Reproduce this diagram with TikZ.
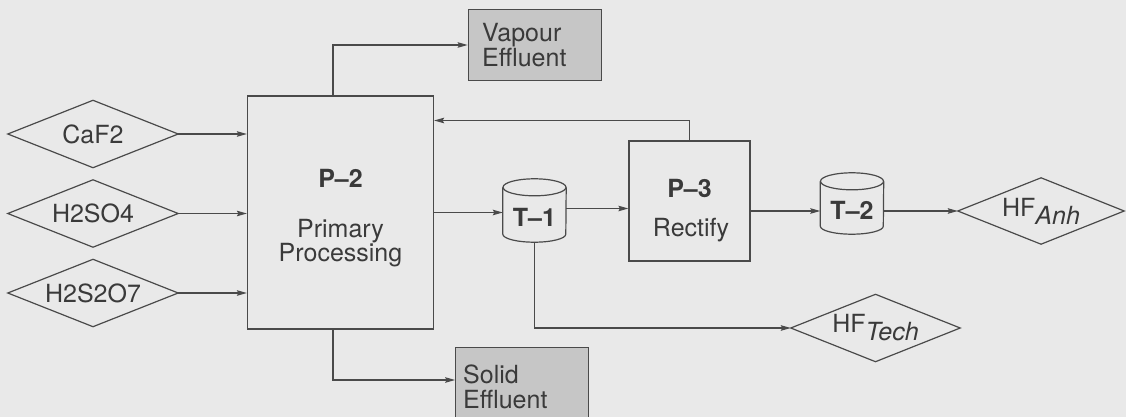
\documentclass[tikz,border=0pt]{standalone}
\usepackage{fontspec}
\setmainfont{TeX Gyre Heros}
\usetikzlibrary{arrows.meta}
\definecolor{bg}{HTML}{E9E9E9}
\definecolor{ln}{HTML}{4A4A4A}
\definecolor{tx}{HTML}{3A3A3A}
\definecolor{eff}{HTML}{C6C6C6}
\newcommand{\dfont}{\fontsize{25}{25}\selectfont}
\begin{document}
\begin{tikzpicture}[x=1pt,y=-1pt,
  every node/.style={font=\dfont, text=tx},
  feed/.style={rectangle, minimum width=170pt, minimum height=67pt, inner sep=0pt},
  diamondline/.style={draw=ln, line width=1.2pt},
  procbox/.style={rectangle, draw=ln, line width=1.2pt, inner sep=0pt},
  effbox/.style={rectangle, draw=ln, fill=eff, line width=1.2pt, inner sep=0pt},
  arr/.style={draw=ln, line width=1.2pt, -{Stealth[length=10pt,width=5.5pt,inset=1.5pt]}},
  lbl/.style={anchor=base, inner sep=0pt},
  lbll/.style={anchor=base west, inner sep=0pt},
  bold/.style={font=\dfont\bfseries},
  tankbody/.style={rectangle, inner sep=0pt, minimum width=63pt},
  tankline/.style={draw=ln, line width=1.2pt},
]
\fill[bg] (0,0) rectangle (1126,417);
\clip (0,0) rectangle (1126,417);

% feeds
\node[feed] (caf) at (93,134) {CaF2};
\node[feed] (hso) at (93,213.5) {H2SO4};
\node[feed] (hs2) at (93,293) {H2S2O7};

% P-2
\node[procbox, minimum width=186pt, minimum height=233pt] (p2) at (340.5,212.5) {};
\node[lbl, bold] (p2t) at (340.5,187) {P–2};
\node[lbl] (p2u) at (340.5,237) {Primary};
\node[lbl] (p2v) at (340.5,261) {Processing};

% effluents
\node[effbox, minimum width=133.5pt, minimum height=71.5pt] (vap) at (535,45) {};
\node[lbll] (vapa) at (482,41.5) {Vapour};
\node[lbll] (vapb) at (482,66.5) {Effluent};
\node[effbox, minimum width=132.5pt, minimum height=71.5pt] (sol) at (522,383) {};
\node[lbll] (sola) at (463,383) {Solid};
\node[lbll] (solb) at (463,408.5) {Effluent};

% T-1 tank
\node[tankbody, minimum height=63pt] (t1) at (534.5,210.5) {};
\draw[tankline] ([yshift=-8.5pt]t1.north west) -- ([yshift=8pt]t1.south west)
  arc[start angle=180,end angle=360,x radius=31.5pt,y radius=8pt]
  -- ([yshift=-8.5pt]t1.north east);
\draw[tankline] ([yshift=-8.5pt]t1.north) ellipse[x radius=31.5pt,y radius=8.5pt];
\node[lbl, bold] (t1t) at (534.5,226.5) {T–1};

% P-3
\node[procbox, minimum width=121pt, minimum height=120pt] (p3) at (689.5,201) {};
\node[lbl, bold] (p3t) at (689.5,197) {P–3};
\node[lbl] (p3u) at (691,236.5) {Rectify};

% T-2 tank
\node[tankbody, minimum height=61pt] (t2) at (852,203.5) {};
\draw[tankline] ([yshift=-8.5pt]t2.north west) -- ([yshift=8pt]t2.south west)
  arc[start angle=180,end angle=360,x radius=31.5pt,y radius=8pt]
  -- ([yshift=-8.5pt]t2.north east);
\draw[tankline] ([yshift=-8.5pt]t2.north) ellipse[x radius=31.5pt,y radius=8.5pt];
\node[lbl, bold] (t2t) at (852,219) {T–2};

% products
\node[feed, minimum width=166pt, minimum height=66pt] (hfa) at (1041,211) {HF\raisebox{-8pt}{\itshape Anh}};
\node[feed, minimum width=169pt, minimum height=67pt] (hft) at (875.5,328) {HF\raisebox{-8pt}{\itshape Tech}};

% diamond outlines
\foreach \n in {caf,hso,hs2,hfa,hft}
  \draw[diamondline] (\n.west) -- (\n.north) -- (\n.east) -- (\n.south) -- cycle;

% helper coordinates
\coordinate (vx) at (333,0);
\coordinate (fb) at (0,120.5);

% connectors
\draw[arr] (caf.east) -- (caf.east -| p2.west);
\draw[arr] (hso.east) -- (hso.east -| p2.west);
\draw[arr] (hs2.east) -- (hs2.east -| p2.west);
\draw[arr] (p2.north -| vx) |- (vap.west);
\draw[arr] (p2.south -| vx) |- ([yshift=3pt]sol.west);
\draw[arr] ([yshift=-2pt]t1.west -| p2.east) -- ([yshift=-2pt]t1.west);
\draw[arr] ([yshift=2pt]t1.east) -- ([yshift=2pt]t1.east -| p3.west);
\draw[arr] (p3.north) |- (p2.east |- fb);
\draw[arr] (t1.south) |- (hft.west);
\draw[arr] (p3.east |- hfa.west) -- (t2.west |- hfa.west);
\draw[arr] (t2.east |- hfa.west) -- (hfa.west);
\end{tikzpicture}
\end{document}
